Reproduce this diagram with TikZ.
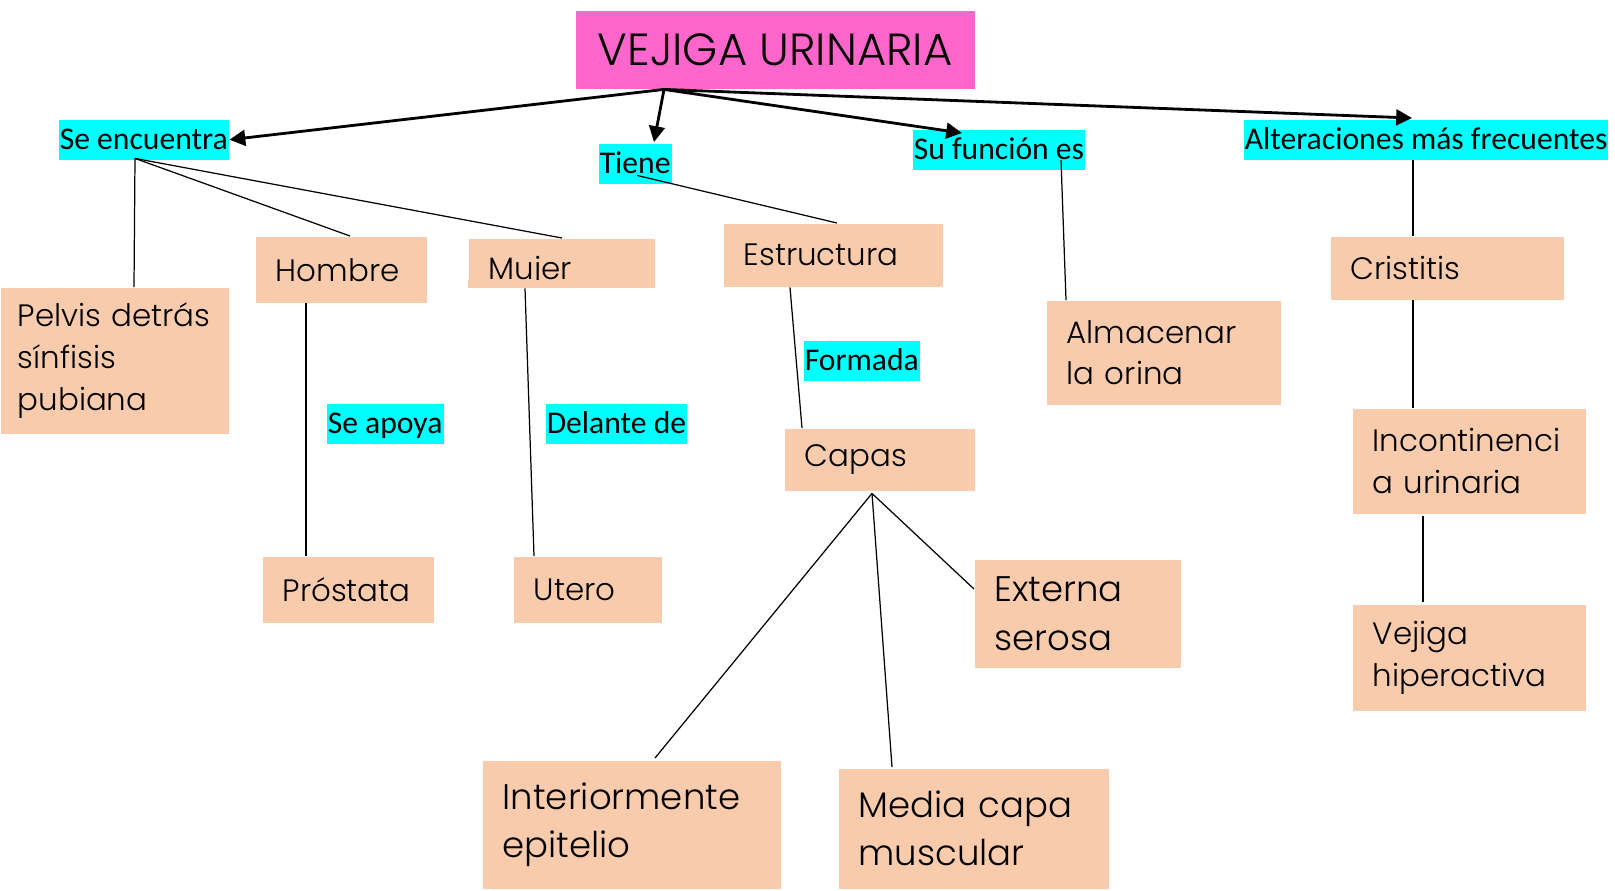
\documentclass[tikz,border=0pt]{standalone}
\usepackage{fontspec}
\setmainfont{Poppins Light}
\newfontfamily\linkfont{Carlito}
\usetikzlibrary{arrows.meta,calc}
\hyphenpenalty=10000
\definecolor{titlepink}{RGB}{255,102,204}
\definecolor{peach}{RGB}{248,203,173}
\definecolor{hilite}{RGB}{0,255,255}
\tikzset{
  concept/.style={fill=peach, anchor=north west, inner xsep=2mm, inner ysep=0pt,
    align=left, font=\fontsize{8.8}{11.9}\selectfont},
  bigconcept/.style={concept, font=\fontsize{10.1}{13.7}\selectfont},
  linkword/.style={fill=hilite, anchor=north west, inner xsep=0.3pt, inner ysep=0pt,
    minimum height=4mm, text height=5.8pt, text depth=0pt,
    font=\linkfont\fontsize{9}{10}\selectfont},
  branch/.style={line width=0.35pt},
  mainarrow/.style={line width=0.8pt, -{Triangle[length=4.5pt,width=4.5pt]}}
}
\begin{document}
\begin{tikzpicture}[x=0.1mm,y=-0.1mm]
  \path[use as bounding box, fill=white] (0,0) rectangle (1615,890);

  % title
  \node[fill=titlepink, anchor=north west, minimum width=39.9mm, minimum height=7.8mm,
    font=\fontsize{12.8}{15}\selectfont] (vejiga) at (575,10) {VEJIGA URINARIA};
  \coordinate (root) at ($(vejiga.south west)+(89,0)$);

  % link words
  \node[linkword] (enc) at (58,119) {Se encuentra};
  \node[linkword] (tiene) at (598,143) {Tiene};
  \node[linkword] (funcion) at (912,129) {Su función es};
  \node[linkword] (alter) at (1243,119) {Alteraciones más frecuentes};
  \node[linkword] (apoya) at (326,403) {Se apoya};
  \node[linkword] (delante) at (545,403) {Delante de};
  \node[linkword] (formada) at (803,340) {Formada};

  % concepts
  \node[concept, inner xsep=1.7mm, text width=19.4mm, minimum height=14.6mm] (pelvis) at (0,287)
    {\mbox{Pelvis detrás}\\sínfisis\\pubiana};
  \node[concept, text width=13.1mm, minimum height=6.6mm] (hombre) at (255,236) {Hombre};
  \node[concept, text width=14.6mm, minimum height=4.9mm, text height=9.4pt, text depth=0pt]
    (mujer) at (468,238) {Mujer};
  \fill[peach] (mujer.base west) rectangle (mujer.south east);
  \node[concept, text width=13.1mm, minimum height=6.6mm] (prostata) at (262,556) {Próstata};
  \node[concept, text width=10.8mm, minimum height=6.6mm] (utero) at (513,556) {Utero};
  \node[concept, text width=17.9mm, minimum height=6.3mm] (estructura) at (723,223) {Estructura};
  \node[concept, text width=15.0mm, minimum height=6.2mm] (capas) at (784,428) {Capas};
  \node[bigconcept, text width=25.8mm, minimum height=12.8mm] (inter) at (482,760)
    {Interiormente\\epitelio};
  \node[bigconcept, text width=23.0mm, minimum height=12.0mm] (media) at (838,768)
    {Media capa\\muscular};
  \node[bigconcept, text width=16.6mm, minimum height=10.8mm] (externa) at (974,559)
    {Externa\\serosa};
  \node[concept, text width=19.4mm, minimum height=10.4mm] (almacenar) at (1046,300)
    {Almacenar\\la orina};
  \node[concept, text width=19.3mm, minimum height=6.3mm] (cristitis) at (1330,236) {Cristitis};
  \node[concept, text width=19.3mm, minimum height=10.5mm] (incont) at (1352,408)
    {Incontinenci\\a urinaria};
  \node[concept, text width=19.3mm, minimum height=10.6mm] (hiper) at (1352,604)
    {Vejiga\\hiperactiva};

  % arrows from the title
  \draw[mainarrow] (root) to (enc.east);
  \draw[mainarrow] (root) to ($(tiene.north west)+(56,-1)$);
  \draw[mainarrow] (root) to ($(funcion.north west)+(50,4)$);
  \draw[mainarrow] (root) to ($(alter.north west)+(169,-1)$);

  % branches
  \draw[branch] ($(enc.south west)+(77,-2)$) to ($(pelvis.north west)+(134,0)$);
  \draw[branch] ($(enc.south west)+(77,-2)$) to ($(hombre.north west)+(95,0)$);
  \draw[branch] ($(enc.south west)+(77,-2)$) to ($(mujer.north west)+(94,0)$);
  \draw[branch] ($(hombre.south west)+(51,0)$) to ($(prostata.north west)+(44,0)$);
  \draw[branch] ($(mujer.south west)+(57,0)$) to ($(utero.north west)+(21,0)$);
  \draw[branch] ($(tiene.south west)+(39,-9)$) to ($(estructura.north west)+(114,0)$);
  \draw[branch] ($(estructura.south west)+(67,0)$) to ($(capas.north west)+(18,0)$);
  \draw[branch] ($(capas.south west)+(88,2)$) to ($(inter.north west)+(173,-2)$);
  \draw[branch] ($(capas.south west)+(88,2)$) to ($(media.north west)+(54,-1)$);
  \draw[branch] ($(capas.south west)+(88,2)$) to ($(externa.north west)+(0,30)$);
  \draw[branch] ($(funcion.north west)+(149,31)$) to ($(almacenar.north west)+(20,0)$);
  \draw[branch] ($(alter.south west)+(170,0)$) to ($(cristitis.north west)+(83,0)$);
  \draw[branch] ($(cristitis.south west)+(83,0)$) to ($(incont.north west)+(61,0)$);
  \draw[branch] ($(incont.south west)+(71,2)$) to ($(hiper.north west)+(71,-2)$);
\end{tikzpicture}
\end{document}
